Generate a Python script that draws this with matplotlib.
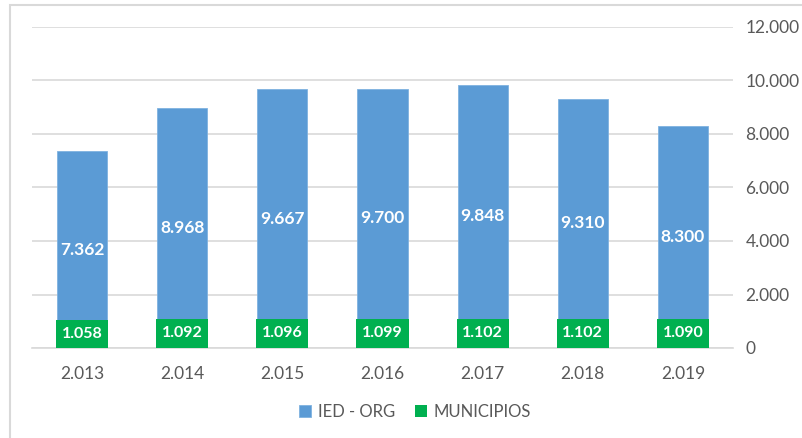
import matplotlib.pyplot as plt
from matplotlib.patches import Rectangle
import numpy as np

plt.rcParams['font.family'] = ['Lato', 'DejaVu Sans']

years = ['2.013', '2.014', '2.015', '2.016', '2.017', '2.018', '2.019']
ied_org = [7362, 8968, 9667, 9700, 9848, 9310, 8300]
municipios = [1058, 1092, 1096, 1099, 1102, 1102, 1090]

blue = '#5B9BD5'
green = '#00B050'
grid_c = '#D9D9D9'
txt_c = '#595959'

def fmt(v):
    return f'{v:,}'.replace(',', '.')

fig = plt.figure(figsize=(8.03, 4.38), dpi=100)
W, H = 803, 438
ax = fig.add_axes([32 / W, 1 - 348 / H, 701 / W, 321 / H])

x = np.arange(len(years))
b1 = ax.bar(x, ied_org, width=0.5, color=blue, edgecolor='#7FB2E0', linewidth=0.6,
            label='IED - ORG', zorder=2)
b2 = ax.bar(x, municipios, width=0.52, color=green, label='MUNICIPIOS', zorder=3)

for xi, v in zip(x, ied_org):
    ax.text(xi, v / 2, fmt(v), ha='center', va='center', color='white',
            fontsize=12.5, fontweight='bold', zorder=4)
for xi, v in zip(x, municipios):
    ax.text(xi, v / 2, fmt(v), ha='center', va='center', color='white',
            fontsize=11.5, fontweight='bold', zorder=4)

ax.set_xlim(-0.5, len(years) - 0.5)
ax.set_ylim(0, 12000)
ax.set_yticks(np.arange(0, 12001, 2000))
ax.set_yticklabels([fmt(v) for v in range(0, 12001, 2000)])
ax.yaxis.tick_right()
ax.set_xticks(x)
ax.set_xticklabels(years)
ax.tick_params(axis='both', length=0, colors=txt_c, labelsize=12.5)
ax.tick_params(axis='y', pad=9)
ax.tick_params(axis='x', pad=13)
ax.grid(axis='y', color=grid_c, linewidth=1.2, zorder=0)
ax.set_axisbelow(True)
for s in ['top', 'left', 'right']:
    ax.spines[s].set_visible(False)
ax.spines['bottom'].set_color(grid_c)
ax.spines['bottom'].set_linewidth(1.2)

fig.legend(handles=[b1, b2], loc='center', bbox_to_anchor=(415 / W, 1 - 412 / H),
           ncol=2, frameon=False, fontsize=12, labelcolor=txt_c,
           handlelength=0.7, handleheight=0.7, handletextpad=0.4, columnspacing=1.2)

fig.patches.append(Rectangle((10 / W, -0.1), 1.2, 1 - 5 / H + 0.1, transform=fig.transFigure,
                             fill=False, edgecolor=grid_c, linewidth=1.5, zorder=0))

fig.savefig('out.png', dpi=100)
